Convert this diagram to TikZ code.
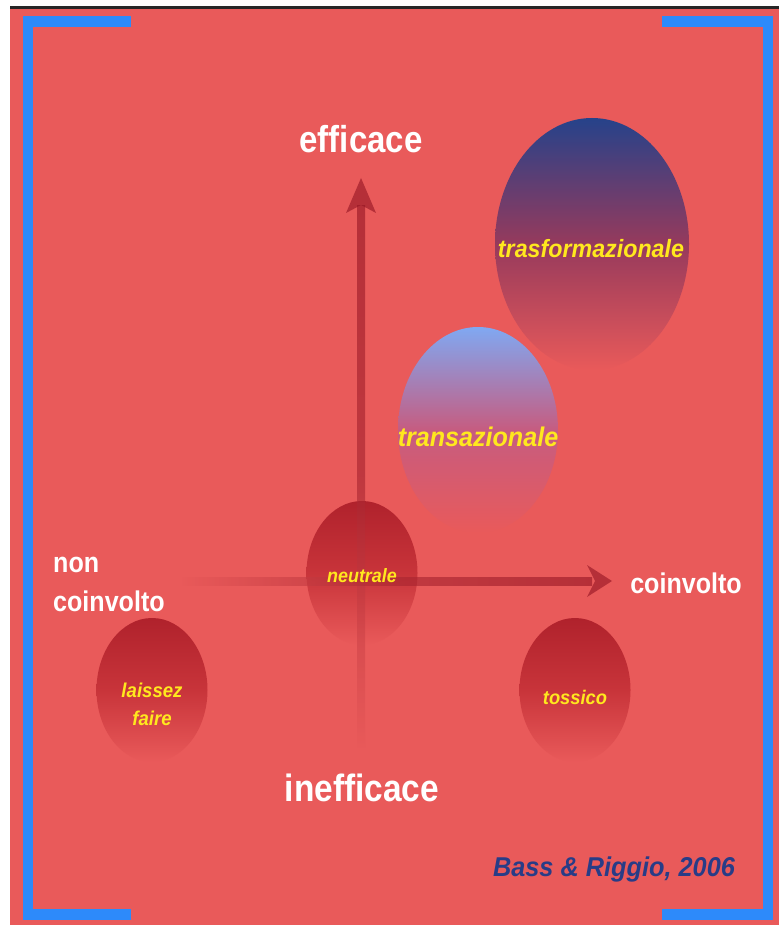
\documentclass[tikz,border=0pt]{standalone}
\usepackage{fontspec}
\setmainfont{Liberation Sans}
\newfontfamily\wfont[FakeStretch=0.88]{Liberation Sans}
\newfontfamily\yfont[FakeStretch=0.93]{Liberation Sans}
\usetikzlibrary{shapes.geometric}
\definecolor{bg}{RGB}{233,90,90}
\definecolor{framblue}{RGB}{45,138,250}
\definecolor{lblyellow}{RGB}{255,232,30}
\definecolor{citeblue}{RGB}{40,60,135}
\definecolor{navy}{RGB}{38,66,138}
\definecolor{plum}{RGB}{150,58,92}
\definecolor{skyblue}{RGB}{128,168,242}
\definecolor{mauve}{RGB}{198,92,128}
\definecolor{darkred}{RGB}{176,34,44}
\definecolor{midred}{RGB}{200,52,58}
\definecolor{arrowred}{RGB}{150,22,36}
\begin{document}
\begin{tikzpicture}[x=1pt,y=-1pt,
  frame/.style={fill=framblue},
  axislabel/.style={text=white, font=\wfont\bfseries, inner sep=0pt, align=left},
  blobtext/.style={text=lblyellow, font=\yfont\bfseries\itshape, inner sep=0pt, align=center},
  blob/.style={ellipse, draw=none, inner sep=0pt},
  redblob/.style={blob, minimum width=111pt, minimum height=144pt,
     top color=darkred, bottom color=bg, middle color=midred},
  arrowpart/.style={opacity=0.62}
]
\useasboundingbox (0,0) rectangle (779,925);
\fill[white] (0,0) rectangle (779,925);
\fill[black!85] (10,6.5) rectangle (779,9);
\fill[bg] (10,9) rectangle (779,925);
% blue corner brackets
\fill[frame] (23,16) rectangle (131,27);
\fill[frame] (23,16) rectangle (33,920);
\fill[frame] (23,909) rectangle (131,920);
\fill[frame] (662,16) rectangle (773,27);
\fill[frame] (763,16) rectangle (773,920);
\fill[frame] (662,909) rectangle (773,920);
% blobs
\node[blob, minimum width=194pt, minimum height=252pt,
      top color=navy, bottom color=bg, middle color=plum] (trasf) at (592,244) {};
\node[blob, minimum width=160pt, minimum height=206pt,
      top color=skyblue, bottom color=bg, middle color=mauve] (trans) at (478,430) {};
\node[redblob] (neut) at (362,573) {};
\node[redblob] (laiss) at (152,690) {};
\node[redblob] (toss) at (575,690) {};
% axes
\coordinate (vtip) at (361,178);
\coordinate (htip) at (612,581);
\shade[arrowpart, top color=arrowred, bottom color=bg, middle color=arrowred!80!bg] (357,206) rectangle (365,750);
\fill[arrowpart, arrowred] (vtip) -- (376,213) -- (361,205) -- (346,213) -- cycle;
\shade[arrowpart, right color=arrowred, left color=bg, middle color=arrowred!75!bg] (180,577) rectangle (592,585);
\fill[arrowpart, arrowred] (htip) -- (587,597) -- (595,581) -- (587,565) -- cycle;
% blob labels
\node[blobtext, font=\yfont\bfseries\itshape\fontsize{25}{28}\selectfont] (ltrasf) at (591,249) {trasformazionale};
\node[blobtext, font=\yfont\bfseries\itshape\fontsize{27}{30}\selectfont] (ltrans) at (478,437) {transazionale};
\node[blobtext, font=\yfont\bfseries\itshape\fontsize{19.3}{22}\selectfont] (lneut) at (362,576) {neutrale};
\node[blobtext, font=\yfont\bfseries\itshape\fontsize{20}{28}\selectfont] (llaiss) at (152,704) {laissez\\faire};
\node[blobtext, font=\yfont\bfseries\itshape\fontsize{19.7}{22}\selectfont] (ltoss) at (575,697) {tossico};
% axis labels
\node[axislabel, font=\wfont\bfseries\fontsize{37.5}{40}\selectfont] (eff) at (361,139) {efficace};
\node[axislabel, font=\wfont\bfseries\fontsize{38}{40}\selectfont] (ineff) at (362,788) {inefficace};
\node[axislabel, font=\wfont\bfseries\fontsize{28.5}{39}\selectfont, anchor=west] (noncoin) at (53,584) {non\\coinvolto};
\node[axislabel, font=\wfont\bfseries\fontsize{28.5}{39}\selectfont] (coin) at (686,583) {coinvolto};
% citation
\node[text=citeblue, font=\yfont\bfseries\itshape\fontsize{27.2}{30}\selectfont, inner sep=0pt] (cite) at (614,869) {Bass \& Riggio, 2006};
\end{tikzpicture}
\end{document}
